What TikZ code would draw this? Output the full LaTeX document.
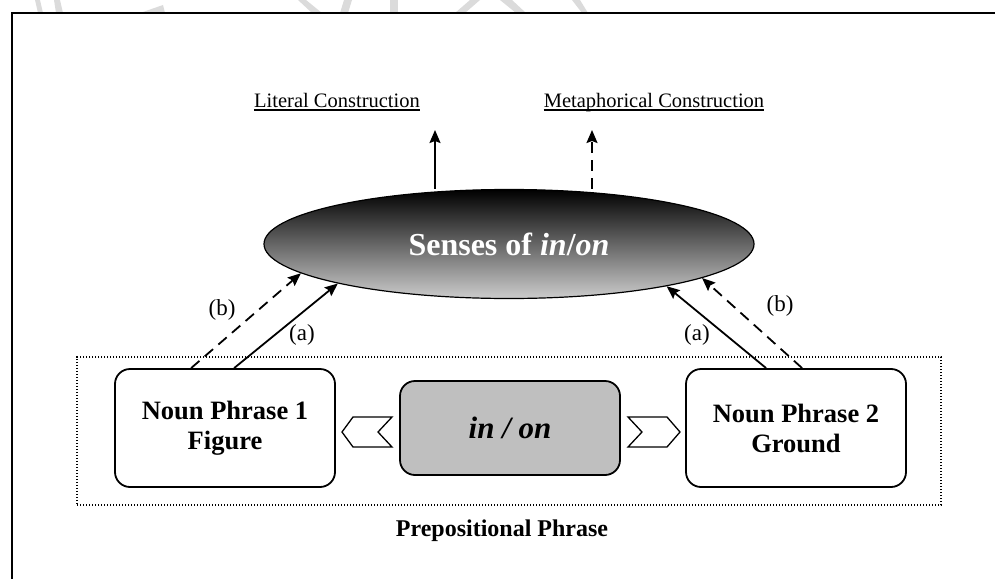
\documentclass[tikz,border=0pt]{standalone}
\usepackage{fontspec}
\setmainfont{Liberation Serif}
\usetikzlibrary{arrows.meta,shapes.geometric,calc}
\begin{document}
\begin{tikzpicture}[x=1pt,y=-1pt,
  arr/.style={line width=1.8pt,-{Stealth[length=13pt,width=11pt,inset=2pt]}},
  dash arr/.style={arr,dash pattern=on 11pt off 7pt},
  phrase/.style={draw,line width=1.8pt,rounded corners=15pt,minimum width=220pt,
    minimum height=118pt,inner sep=0pt,align=center,
    font=\fontsize{26.5}{30}\selectfont\bfseries},
  prepbox/.style={draw,line width=1.8pt,rounded corners=15pt,fill=black!25,
    minimum width=220pt,minimum height=94pt,inner sep=0pt,
    font=\fontsize{31}{36}\selectfont\bfseries\itshape},
  group/.style={draw,line width=1.2pt,dash pattern=on 1.3pt off 1.7pt,
    minimum width=864pt,minimum height=148pt,inner sep=0pt},
  chev/.style={draw,line width=1.3pt,fill=white},
  lbl/.style={inner sep=0pt,font=\fontsize{23}{28}\selectfont},
  construction/.style={inner sep=0pt,anchor=base,font=\fontsize{20.5}{24}\selectfont},
  logostroke/.style={fill=black!14,draw=none}
]
\useasboundingbox (0,0) rectangle (995,578);

% faint logo strokes above the frame
\fill[logostroke] (35,0) -- (40,0) -- (43,13) -- (38,13) -- cycle;
\fill[logostroke] (54,0) -- (60,0) -- (63,13) -- (56,13) -- cycle;
\fill[logostroke] (140,13) -- (163,5) -- (165,13) -- cycle;
\fill[logostroke] (298,0) -- (306,0) -- (322,13) -- (312,13) -- cycle;
\fill[logostroke] (344,0) -- (352,0) -- (348,13) -- (340,13) -- cycle;
\fill[logostroke] (390,0) -- (398,0) -- (398,13) -- (390,13) -- cycle;
\fill[logostroke] (470,0) -- (480,0) -- (465,13) -- (455,13) -- cycle;
\fill[logostroke] (500,0) -- (512,0) -- (526,13) -- (516,13) -- cycle;
\fill[logostroke] (572,0) -- (580,0) -- (588,13) -- (582,13) -- cycle;

% page frame
\draw[line width=2pt] (12,580) -- (12,13) -- (997,13);

% prepositional phrase group
\node[group] (pp) at (509,431) {};
\node[inner sep=0pt,font=\fontsize{24}{28}\selectfont\bfseries] (pplabel) at (502,531) {Prepositional Phrase};

% phrase boxes
\node[phrase] (np1) at (225,428) {Noun Phrase 1\\Figure};
\node[phrase] (np2) at (796,428) {Noun Phrase 2\\Ground};
\node[prepbox] (prep) at (510,428) {in / on};

% chevrons between the boxes
\coordinate (lchev) at (367,432);
\coordinate (rchev) at (654,432);
\draw[chev] (lchev) ++(-25,0) -- ++(11,-15) -- ++(39,0) -- ++(-14,15) -- ++(14,15) -- ++(-39,0) -- cycle;
\draw[chev] (rchev) ++(26,0) -- ++(-13,-15) -- ++(-39,0) -- ++(14,15) -- ++(-14,15) -- ++(39,0) -- cycle;

% senses ellipse
\node[ellipse,draw,line width=1.2pt,top color=black,bottom color=black!20,
  minimum width=490pt,minimum height=109pt,inner sep=0pt,text=white,
  font=\fontsize{32}{36}\selectfont\bfseries] (senses) at (509,244)
  {Senses of \textit{in}/\textit{on}};

% construction labels
\node[construction] (lit) at (337,107) {Literal Construction};
\node[construction] (met) at (654,107) {Metaphorical Construction};
\draw[line width=1.5pt] ([yshift=-3pt]lit.base west) -- ([yshift=-3pt]lit.base east);
\draw[line width=1.5pt] ([yshift=-3pt]met.base west) -- ([yshift=-3pt]met.base east);

\coordinate (litend) at (435,130);
\coordinate (metend) at (592,130);
\draw[arr] (litend |- senses.north) -- (litend);
\draw[dash arr] (metend |- senses.north) -- (metend);

% arrows from the noun phrases
\draw[dash arr] ($(np1.north west)+(77,0)$) -- (senses.188.8);
\draw[arr] ($(np1.north west)+(120,0)$) -- (senses.193.3);
\draw[arr] ($(np2.north west)+(81,0)$) -- (senses.345.7);
\draw[dash arr] ($(np2.north west)+(117,0)$) -- (senses.350.7);

\node[lbl] (lb) at (222,310) {(b)};
\node[lbl] (la) at (302,335) {(a)};
\node[lbl] (ra) at (697,335) {(a)};
\node[lbl] (rb) at (780,306) {(b)};
\end{tikzpicture}
\end{document}
